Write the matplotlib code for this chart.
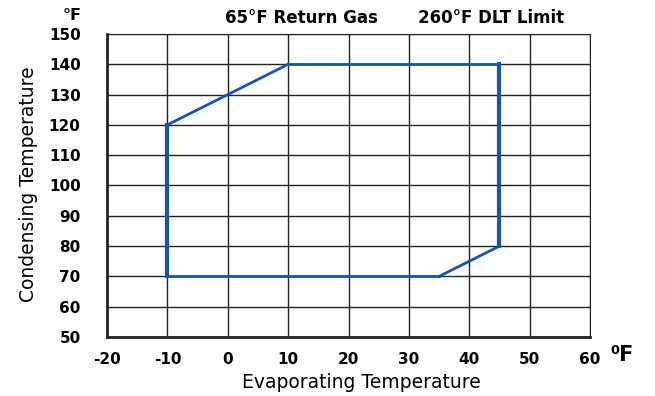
import matplotlib.pyplot as plt

plt.rcParams['axes.unicode_minus'] = False

# envelope corners (evaporating F, condensing F)
evap = [-10, -10, 10, 45, 45, 35, -10]
cond = [70, 120, 140, 140, 80, 70, 70]

x_ticks = [-20, -10, 0, 10, 20, 30, 40, 50, 60]
y_ticks = [50, 60, 70, 80, 90, 100, 110, 120, 130, 140, 150]

blue = '#1456ad'

fig = plt.figure(figsize=(6.55, 3.96), dpi=100)
ax = fig.add_axes([0.1634, 0.149, 0.7374, 0.7652])

for i in range(len(evap) - 1):
    vertical = evap[i] == evap[i + 1]
    ax.plot(evap[i:i + 2], cond[i:i + 2], color=blue,
            lw=3 if vertical else 2, solid_capstyle='projecting', zorder=3)

ax.set_xlim(-20, 60)
ax.set_ylim(50, 150)
ax.set_xticks(x_ticks)
ax.set_yticks(y_ticks)
ax.grid(True, color='#222222', lw=1)
ax.tick_params(axis='y', length=0, pad=19)
ax.tick_params(axis='x', length=0, pad=11)
for lab in ax.get_xticklabels() + ax.get_yticklabels():
    lab.set_fontweight('bold')
    lab.set_fontsize(11)
    lab.set_family('DejaVu Sans')
for s in ax.spines.values():
    s.set_color('#222222')
ax.spines['left'].set_linewidth(2)
ax.spines['bottom'].set_linewidth(2)

fig.text(0.551, 0.033, 'Evaporating Temperature', fontsize=13.5,
         family='DejaVu Sans', ha='center', va='center')
fig.text(0.043, 0.535, 'Condensing Temperature', fontsize=13.5,
         family='DejaVu Sans', ha='center', va='center', rotation=90)

fig.text(0.11, 0.962, '°F', fontsize=11.5, fontweight='bold', family='DejaVu Sans', ha='center', va='center')
fig.text(0.46, 0.955, '65°F Return Gas', fontsize=12, fontweight='bold', family='DejaVu Sans', ha='center', va='center')
fig.text(0.75, 0.955, '260°F DLT Limit', fontsize=12, fontweight='bold', family='DejaVu Sans', ha='center', va='center')
fig.text(0.932, 0.103, '⁰F', fontsize=15, fontweight='bold', family='DejaVu Sans', ha='left', va='center')

fig.savefig('out.png', dpi=100)
